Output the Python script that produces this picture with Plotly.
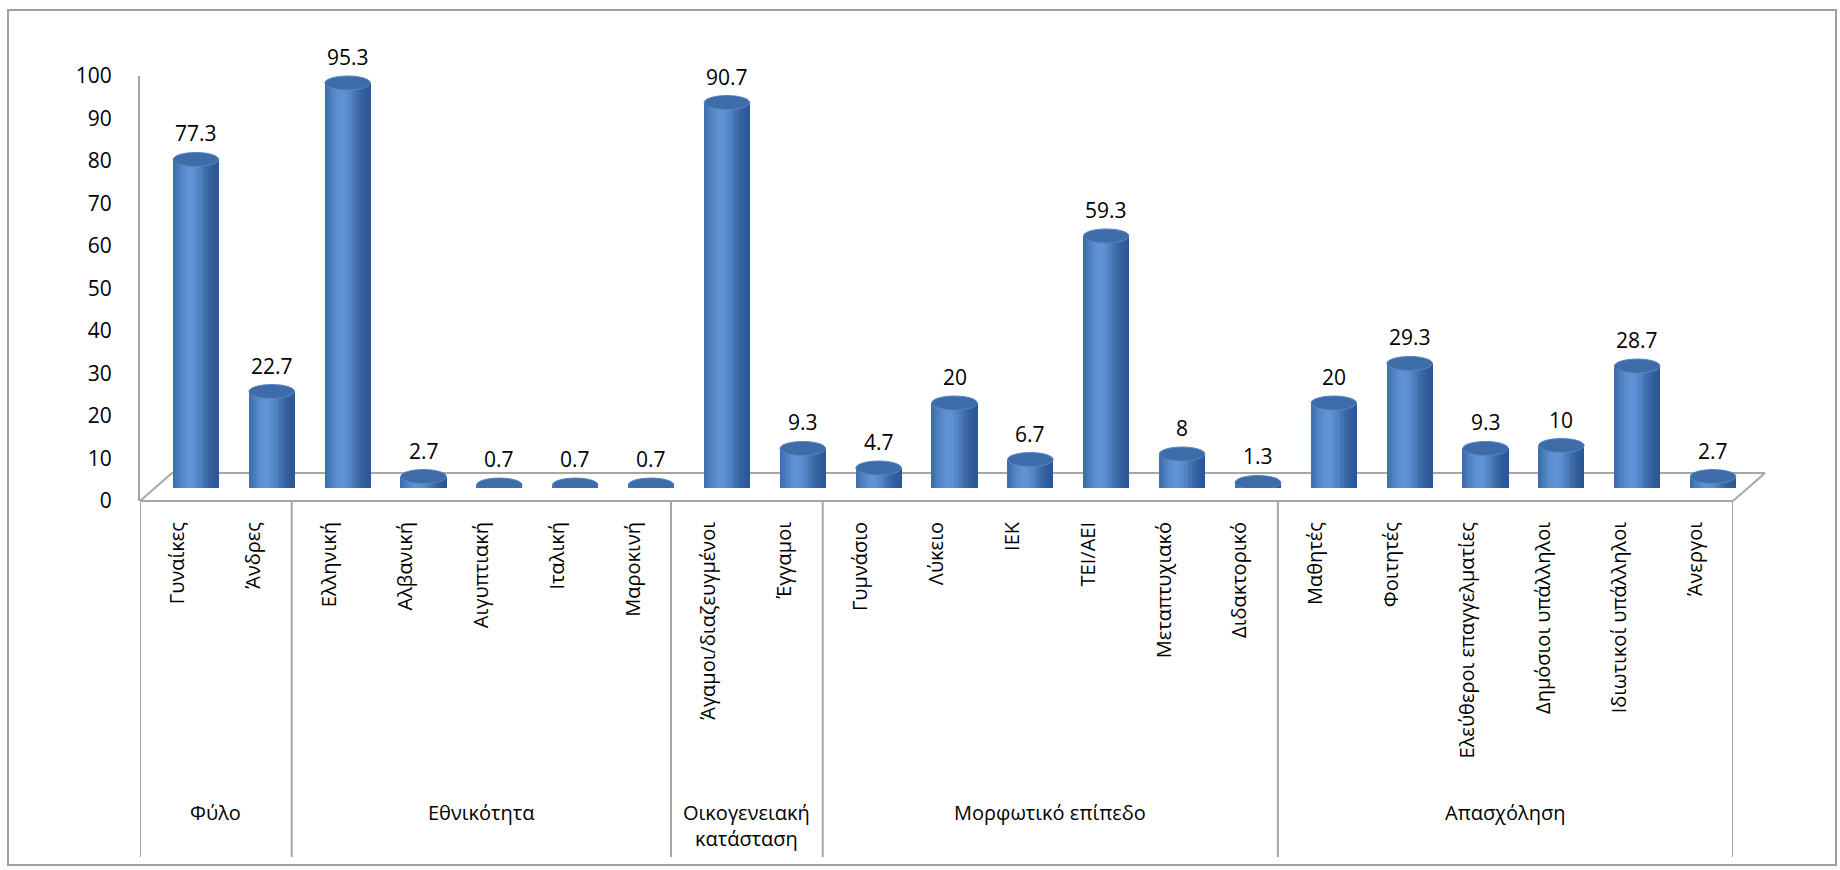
import math
import plotly.graph_objects as go

# ---------------- data ----------------
categories = ["Γυναίκες", "Άνδρες", "Ελληνική", "Αλβανική", "Αιγυπτιακή", "Ιταλική",
              "Μαροκινή", "Άγαμοι/διαζευγμένοι", "Έγγαμοι", "Γυμνάσιο", "Λύκειο", "ΙΕΚ",
              "ΤΕΙ/ΑΕΙ", "Μεταπτυχιακό", "Διδακτορικό", "Μαθητές", "Φοιτητές",
              "Ελεύθεροι επαγγελματίες", "Δημόσιοι υπάλληλοι", "Ιδιωτικοί υπάλληλοι", "Άνεργοι"]
values = [77.3, 22.7, 95.3, 2.7, 0.7, 0.7, 0.7, 90.7, 9.3, 4.7, 20, 6.7, 59.3, 8, 1.3,
          20, 29.3, 9.3, 10, 28.7, 2.7]
groups = ["Φύλο", "Εθνικότητα", "Οικογενειακή<br>κατάσταση", "Μορφωτικό επίπεδο", "Απασχόληση"]
group_sizes = [2, 5, 2, 6, 6]
y_ticks = list(range(0, 101, 10))

# ---------------- layout geometry (pixels) ----------------
W, H = 1840, 870
XL, XR = 140, 1733          # front floor edge
YF, Y100 = 501, 76          # front line (0) and top of value axis (100)
DX, DY = 32, 28             # depth offset of back floor edge
SX, SY = 18, 13             # cylinder base offset (mid depth)
N = len(categories)
BAR_W = 0.6
ELL = 7                     # half height of cylinder ellipses, px

FONT = "Open Sans, Noto Sans, DejaVu Sans, sans-serif"
GRAY = "#a6a6a6"


def px(x):
    return x / W


def py(y):
    return (H - y) / H


centers = [i + 0.5 for i in range(N)]

fig = go.Figure()

# cylinder bodies: vertical slices with cylindrical shading
NS = 18
dark = (40, 82, 142)
light = (96, 148, 214)
for s in range(NS):
    t = -1 + (2 * s + 1) / NS
    f = math.exp(-((t + 0.25) / 0.75) ** 2)
    col = tuple(int(dark[k] + (light[k] - dark[k]) * f) for k in range(3))
    off = -BAR_W / 2 + (s + 0.5) * BAR_W / NS
    fig.add_trace(go.Bar(
        x=[c + off for c in centers], y=values, width=BAR_W / NS * 1.25,
        marker=dict(color="rgb(%d,%d,%d)" % col, line=dict(width=0)),
        xaxis="x2", yaxis="y2", showlegend=False, hoverinfo="skip"))

shapes = []
annotations = []

# cylinder bottoms (below) and tops (above)
for c, v in zip(centers, values):
    shapes.append(dict(type="circle", xref="x2", yref="y2", ysizemode="pixel",
                       yanchor=0, y0=-ELL, y1=ELL, x0=c - BAR_W / 2, x1=c + BAR_W / 2,
                       fillcolor="#4679bc", line=dict(width=0), layer="below"))
    shapes.append(dict(type="circle", xref="x2", yref="y2", ysizemode="pixel",
                       yanchor=v, y0=-ELL, y1=ELL, x0=c - BAR_W / 2, x1=c + BAR_W / 2,
                       fillcolor="#3e6ca9", line=dict(width=1, color="#5686c6"), layer="above"))
    annotations.append(dict(x=c, y=v, xref="x2", yref="y2", text=f"{v:g}", showarrow=False,
                            yanchor="bottom", yshift=ELL + 3,
                            font=dict(family=FONT, size=21, color="#000000")))

# floor
floor_lines = [
    ((XL, YF), (XR, YF)),
    ((XL + DX, YF - DY), (XR + DX, YF - DY)),
    ((XL, YF), (XL + DX, YF - DY)),
    ((XR, YF), (XR + DX, YF - DY)),
]
for (x0, y0), (x1, y1) in floor_lines:
    shapes.append(dict(type="line", xref="paper", yref="paper", x0=px(x0), y0=py(y0),
                       x1=px(x1), y1=py(y1), line=dict(color=GRAY, width=2), layer="below"))

# group separators
bounds = [0]
for g in group_sizes:
    bounds.append(bounds[-1] + g)
for b in bounds:
    shapes.append(dict(type="line", xref="x", yref="paper", x0=b, x1=b, y0=py(YF), y1=py(857),
                       line=dict(color=GRAY, width=2)))

# outer border
shapes.append(dict(type="rect", xref="paper", yref="paper", x0=px(8), y0=py(865), x1=px(1836),
                   y1=py(10), line=dict(color="#a0a0a0", width=2), fillcolor="rgba(0,0,0,0)",
                   layer="below"))

# group labels
for g, b0, b1 in zip(groups, bounds[:-1], bounds[1:]):
    annotations.append(dict(x=(b0 + b1) / 2, y=py(797), xref="x", yref="paper", text=g,
                            showarrow=False, xanchor="center", yanchor="top",
                            font=dict(family=FONT, size=20, color="#000000")))

fig.update_layout(
    template="none",
    width=W, height=H,
    margin=dict(l=0, r=0, t=0, b=0, pad=0, autoexpand=False),
    paper_bgcolor="white", plot_bgcolor="rgba(0,0,0,0)",
    barmode="overlay", bargap=0,
    showlegend=False,
    xaxis=dict(domain=[px(XL), px(XR)], range=[0, N], showline=False, showgrid=False,
               zeroline=False, tickvals=centers, ticktext=categories, tickangle=-90,
               ticks="outside", ticklen=0, ticklabelstandoff=12, automargin=False,
               tickfont=dict(family=FONT, size=20, color="#000000"), fixedrange=True),
    yaxis=dict(domain=[py(YF), py(Y100)], range=[0, 100], tickvals=y_ticks,
               showline=True, linecolor=GRAY, linewidth=2, showgrid=False, zeroline=False,
               ticks="outside", ticklen=0, ticklabelstandoff=22, automargin=False,
               tickfont=dict(family=FONT, size=21, color="#000000")),
    xaxis2=dict(domain=[px(XL + SX), px(XR + SX)], range=[0, N], visible=False, anchor="y2",
                automargin=False),
    yaxis2=dict(domain=[py(YF - SY), py(Y100 - SY)], range=[0, 100], visible=False, anchor="x2",
                automargin=False),
    shapes=shapes,
    annotations=annotations,
)

fig.write_html("out.html")
